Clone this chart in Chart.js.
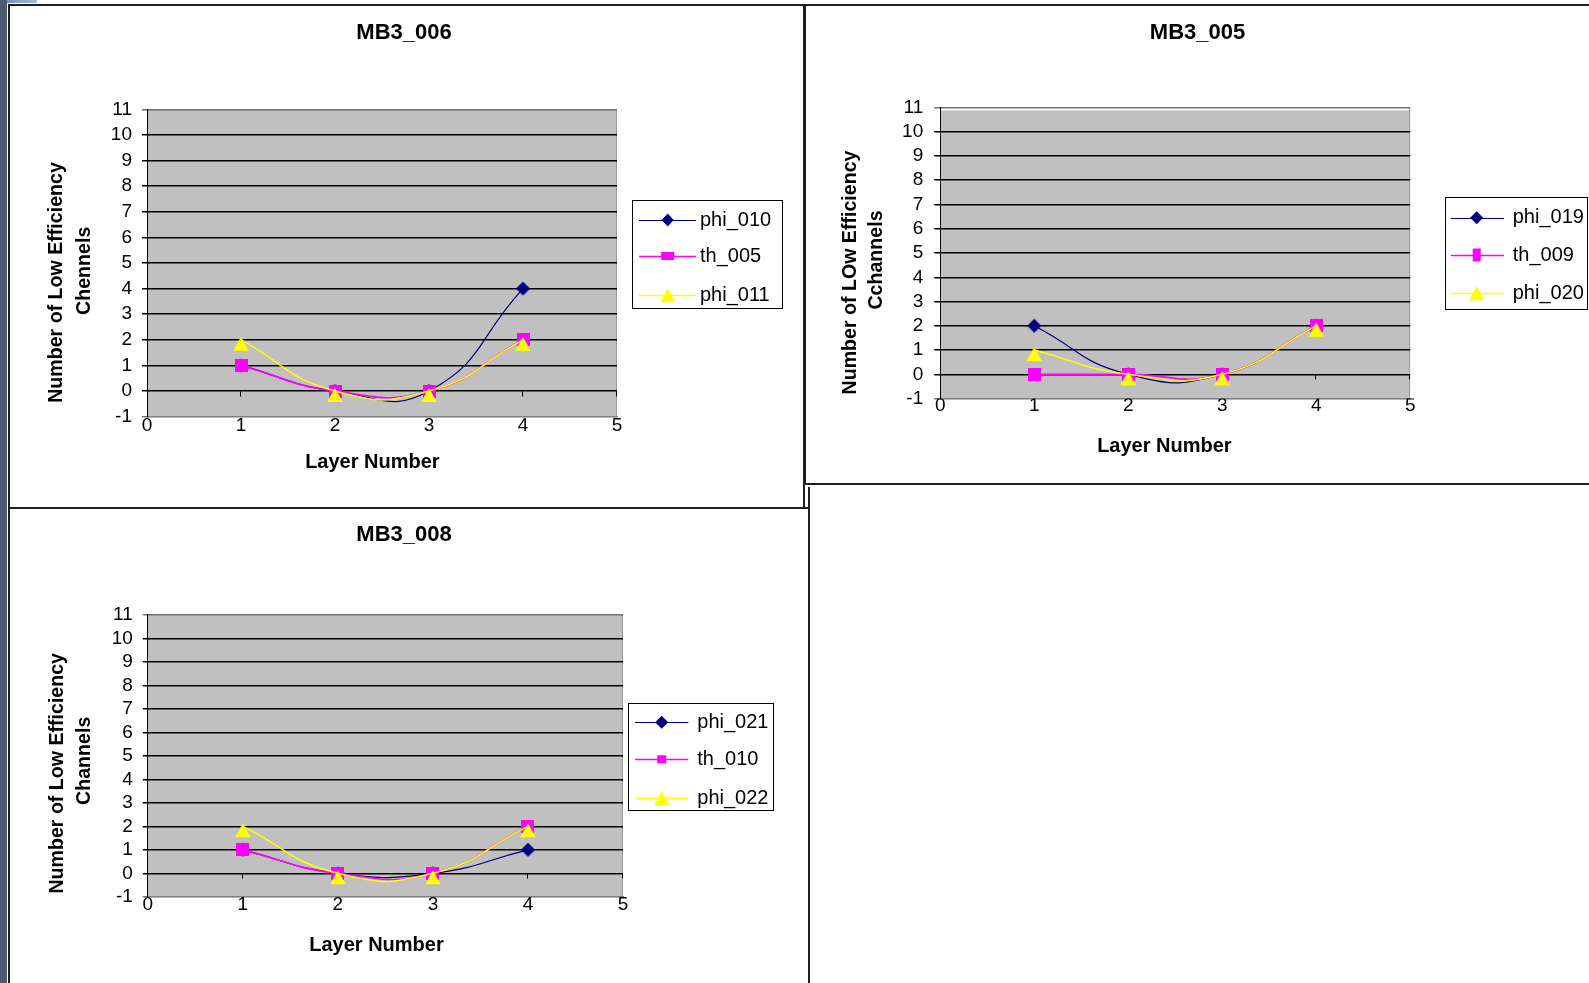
<!DOCTYPE html>
<html>
<head>
<meta charset="utf-8">
<script src="https://cdn.jsdelivr.net/npm/chart.js@4.4.1/dist/chart.umd.min.js"></script>
<style>
html,body{margin:0;padding:0;background:#fff;width:1589px;height:983px;overflow:hidden;position:relative}
.strip{position:absolute;left:0;top:0;width:7px;height:983px;background:#4a5a72}
.tab{position:absolute;left:7px;top:0;width:30px;height:3px;background:linear-gradient(90deg,#7d8fb0,#aab9d5)}
.panel{position:absolute;border:2px solid #1e1e1e;box-sizing:border-box}
canvas{position:absolute}
</style>
</head>
<body>
<div class="strip"></div><div class="tab"></div>
<div class="panel" style="left:8px;top:4px;width:797px;height:505px"></div>
<div class="panel" style="left:804px;top:4px;width:800px;height:481px"></div>
<div class="panel" style="left:8px;top:507px;width:802px;height:500px"></div>
<div style="position:absolute;left:808px;top:487px;width:2px;height:20px;background:#1e1e1e"></div>
<canvas id="c1" width="788" height="499" style="left:10px;top:7px"></canvas>
<canvas id="c2" width="783" height="475" style="left:806px;top:7px"></canvas>
<canvas id="c3" width="788" height="473" style="left:10px;top:510px"></canvas>
<script>
// ---------------- data ----------------
const layers = [1, 2, 3, 4];
const xAxisTicks = [0, 1, 2, 3, 4, 5];
const yAxisTicks = [-1, 0, 1, 2, 3, 4, 5, 6, 7, 8, 9, 10, 11];
const chartTitles = ['MB3_006', 'MB3_005', 'MB3_008'];
const xAxisTitle = 'Layer Number';
const yAxisTitles = [
  ['Number of Low Efficiency', 'Chennels'],
  ['Number of LOw Efficiency', 'Cchannels'],
  ['Number of Low Efficiency', 'Channels']
];
const mb3006Names = ['phi_010', 'th_005', 'phi_011'];
const mb3006Phi010 = [1, 0, 0, 4];
const mb3006Th005 = [1, 0, 0, 2];
const mb3006Phi011 = [2, 0, 0, 2];
const mb3005Names = ['phi_019', 'th_009', 'phi_020'];
const mb3005Phi019 = [2, 0, 0, 2];
const mb3005Th009 = [0, 0, 0, 2];
const mb3005Phi020 = [1, 0, 0, 2];
const mb3008Names = ['phi_021', 'th_010', 'phi_022'];
const mb3008Phi021 = [1, 0, 0, 1];
const mb3008Th010 = [1, 0, 0, 2];
const mb3008Phi022 = [2, 0, 0, 2];

// ---------------- styles ----------------
const FONT = "'Liberation Sans', Arial, Helvetica, sans-serif";

function markerImage(kind, color) {
  const c = document.createElement('canvas');
  const g = c.getContext('2d');
  if (kind === 'diamond') {
    c.width = 15; c.height = 15;
  } else if (kind === 'square') {
    c.width = 13; c.height = 13;
  } else {
    c.width = 16; c.height = 28;
  }
  g.fillStyle = color;
  g.beginPath();
  if (kind === 'diamond') {
    g.moveTo(7.5, 0.5); g.lineTo(14.5, 7.5); g.lineTo(7.5, 14.5); g.lineTo(0.5, 7.5);
  } else if (kind === 'square') {
    g.rect(0, 0, 13, 13);
  } else {
    g.moveTo(8, 11); g.lineTo(15.8, 25); g.lineTo(0.2, 25);
  }
  g.closePath();
  g.fill();
  return c;
}

const seriesStyles = [
  {color: '#000080', marker: 'diamond', width: 1.2},
  {color: '#FF00FF', marker: 'square', width: 1.7},
  {color: '#FFFF00', marker: 'triangle', width: 1.5}
];

const excelPlugin = {
  id: 'excel',
  beforeDraw(chart, args, o) {
    const {ctx, chartArea: a} = chart;
    ctx.save();
    ctx.fillStyle = '#C0C0C0';
    ctx.fillRect(a.left, a.top + (o.bgInset || 0), a.right - a.left, a.bottom - a.top - (o.bgInset || 0));
    ctx.strokeStyle = '#9a9a9a';
    ctx.lineWidth = 1;
    ctx.beginPath();
    ctx.moveTo(Math.round(a.right) - 0.5, a.top);
    ctx.lineTo(Math.round(a.right) - 0.5, a.bottom);
    ctx.stroke();
    ctx.restore();
  },
  beforeDatasetsDraw(chart) {
    const {ctx, scales: {x, y}} = chart;
    const y0 = Math.round(y.getPixelForValue(0)) + 0.5;
    ctx.save();
    ctx.strokeStyle = '#000';
    ctx.lineWidth = 1;
    ctx.beginPath();
    xAxisTicks.forEach(v => {
      if (v === 0) return;
      const px = Math.round(x.getPixelForValue(v)) - 0.5;
      ctx.moveTo(px, y0);
      ctx.lineTo(px, y0 + 5);
    });
    ctx.stroke();
    ctx.restore();
  },
  afterDraw(chart, args, o) {
    const ctx = chart.ctx;
    ctx.save();
    ctx.fillStyle = '#000';
    // y axis title (rotated, two lines)
    ctx.font = 'bold 19.6px ' + FONT;
    ctx.textAlign = 'center';
    ctx.textBaseline = 'alphabetic';
    o.yTitle.forEach((line, i) => {
      const p = o.yTitlePos[i];
      ctx.save();
      ctx.translate(p[0], p[1]);
      ctx.rotate(-Math.PI / 2);
      ctx.fillText(line, 0, 0);
      ctx.restore();
    });
    // x axis title
    ctx.font = 'bold 20px ' + FONT;
    ctx.fillText(o.xTitle, o.xTitlePos[0], o.xTitlePos[1]);
    // legend
    const L = o.legend;
    ctx.strokeStyle = '#000';
    ctx.lineWidth = 1;
    ctx.strokeRect(L.box[0] + 0.5, L.box[1] + 0.5, L.box[2] - L.box[0], L.box[3] - L.box[1]);
    ctx.font = '20px ' + FONT;
    ctx.textAlign = 'left';
    ctx.textBaseline = 'middle';
    chart.data.datasets.forEach((ds, i) => {
      const ry = L.rows[i];
      const st = seriesStyles[i];
      ctx.strokeStyle = ds.borderColor;
      ctx.lineWidth = st.width;
      ctx.beginPath();
      ctx.moveTo(L.line[0], Math.round(ry) + 0.5);
      ctx.lineTo(L.line[1], Math.round(ry) + 0.5);
      ctx.stroke();
      const [w, h] = L.markers[i];
      const mx = L.markerX, my = ry;
      ctx.fillStyle = ds.borderColor;
      ctx.beginPath();
      if (st.marker === 'diamond') {
        ctx.moveTo(mx, my - h / 2); ctx.lineTo(mx + w / 2, my); ctx.lineTo(mx, my + h / 2); ctx.lineTo(mx - w / 2, my);
      } else if (st.marker === 'square') {
        ctx.rect(mx - w / 2, my - h / 2, w, h);
      } else {
        ctx.moveTo(mx, my - h / 2); ctx.lineTo(mx + w / 2, my + h / 2); ctx.lineTo(mx - w / 2, my + h / 2);
      }
      ctx.closePath();
      ctx.fill();
      ctx.fillStyle = '#000';
      ctx.fillText(ds.label, L.textX, ry);
    });
    ctx.restore();
  }
};

function makeChart(id, title, names, seriesValues, yTitle, g) {
  const datasets = seriesValues.map((vals, i) => {
    const st = seriesStyles[i];
    return {
      label: names[i],
      data: layers.map((lx, k) => ({x: lx, y: vals[k]})),
      borderColor: st.color,
      backgroundColor: st.color,
      borderWidth: st.width,
      pointStyle: markerImage(st.marker, st.color),
      pointRadius: 8,
      pointBorderWidth: 0,
      tension: 0.5,
      fill: false,
      order: seriesValues.length - 1 - i
    };
  });
  return new Chart(document.getElementById(id), {
    type: 'line',
    data: {datasets},
    plugins: [excelPlugin],
    options: {
      responsive: false,
      animation: false,
      devicePixelRatio: 1,
      events: [],
      layout: {padding: 0, autoPadding: false},
      plugins: {
        legend: {display: false},
        tooltip: {enabled: false},
        title: {
          display: true, text: title, color: '#000',
          font: {family: FONT, size: 22, weight: 'bold', lineHeight: 1.2},
          padding: {top: g.titleTop, bottom: g.titleBottom}
        },
        excel: {
          bgInset: g.bgInset || 0,
          yTitle: yTitle, yTitlePos: g.yTitlePos,
          xTitle: xAxisTitle, xTitlePos: g.xTitlePos,
          legend: g.legend
        }
      },
      scales: {
        x: {
          type: 'linear', position: 'bottom',
          min: xAxisTicks[0], max: xAxisTicks[xAxisTicks.length - 1],
          afterBuildTicks: s => { s.ticks = xAxisTicks.map(v => ({value: v})); },
          grid: {display: false, drawTicks: false, tickLength: 0},
          border: {display: true, color: '#808080', width: 1},
          ticks: {color: '#000', font: {family: FONT, size: 19}, padding: g.xTickPad, maxRotation: 0, autoSkip: false},
          afterFit: s => { s.height = g.xH; }
        },
        y: {
          type: 'linear', position: 'left',
          min: yAxisTicks[0], max: yAxisTicks[yAxisTicks.length - 1],
          afterBuildTicks: s => { s.ticks = yAxisTicks.map(v => ({value: v})); },
          grid: {
            color: c => (c.tick && (c.tick.value === 11 || c.tick.value === -1)) ? '#707070' : '#000',
            lineWidth: 1.5, tickLength: g.tickLen, drawTicks: true
          },
          border: {display: true, color: '#000', width: 1},
          ticks: {color: '#000', font: {family: FONT, size: 19}, padding: g.yTickPad, autoSkip: false},
          afterFit: s => { s.width = g.yLW; }
        },
        y2: {
          type: 'linear', position: 'right', display: true,
          grid: {display: false, drawOnChartArea: false},
          border: {display: false},
          ticks: {display: false},
          afterFit: s => { s.width = g.yRW; }
        }
      }
    }
  });
}

makeChart('c1', chartTitles[0], mb3006Names, [mb3006Phi010, mb3006Th005, mb3006Phi011], yAxisTitles[0], {
  yLW: 137, yRW: 181, xH: 89.4, titleTop: 12.8, titleBottom: 63.2, xTickPad: -2.2, yTickPad: 10, tickLen: 5,
  yTitlePos: [[52, 275.5], [80.4, 263.8]],
  xTitlePos: [362.4, 461.3],
  legend: {box: [622, 193, 772, 301], rows: [213, 249, 288.3], line: [629, 686], markerX: 657.7, textX: 690,
           markers: [[12, 13], [13, 8], [15, 14]]}
});
makeChart('c2', chartTitles[1], mb3005Names, [mb3005Phi019, mb3005Th009, mb3005Phi020], yAxisTitles[1], {
  yLW: 134.2, yRW: 178.8, xH: 83.4, titleTop: 12.8, titleBottom: 61.2, xTickPad: -4.2, yTickPad: 11, tickLen: 6,
  bgInset: 3,
  yTitlePos: [[50.4, 265.5], [75.5, 253]],
  xTitlePos: [358.4, 445.3],
  legend: {box: [639, 190, 781, 302], rows: [210.7, 248, 286.3], line: [644.7, 698], markerX: 670.7, textX: 706.7,
           markers: [[13, 13], [8, 13], [15, 14]]}
});
makeChart('c3', chartTitles[2], mb3008Names, [mb3008Phi021, mb3008Th010, mb3008Phi022], yAxisTitles[2], {
  yLW: 137.8, yRW: 175, xH: 86.2, titleTop: 11.5, titleBottom: 66.9, xTickPad: -3.2, yTickPad: 10, tickLen: 5,
  yTitlePos: [[53, 263.3], [80.4, 250.8]],
  xTitlePos: [366.5, 440.7],
  legend: {box: [618, 193, 763, 300], rows: [212.3, 249.3, 288.3], line: [625, 678.3], markerX: 651.7, textX: 687.3,
           markers: [[13, 13], [9, 8], [15, 14]]}
});
</script>
</body>
</html>
